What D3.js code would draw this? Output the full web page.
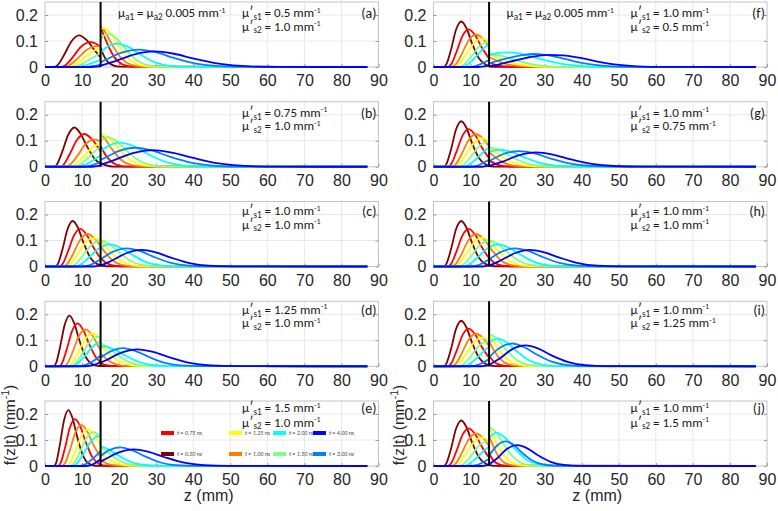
<!DOCTYPE html>
<html><head><meta charset="utf-8">
<script src="https://cdn.jsdelivr.net/npm/d3@7"></script>
<style>
body{margin:0;background:#fff}
svg{display:block}
</style>
</head><body><script>
// ---------------- DATA ----------------
const times = ["0.50","0.75","1.00","1.25","1.50","2.00","3.00","4.00"];
const xTicks = [0,10,20,30,40,50,60,70,80,90];
const yTicks = [0,0.1,0.2];
const xDomain = [0,90];
const yDomain = [0,0.25];
const zSpan = [0,87];          // z range of the computed curves
const interfaceZ = 15;         // layer interface depth (mm)
const panelTags = ["(a)","(b)","(c)","(d)","(e)","(f)","(g)","(h)","(i)","(j)"];
const muS1 = ["0.5","0.75","1.0","1.25","1.5","1.0","1.0","1.0","1.0","1.0"];
const muS2 = ["1.0","1.0","1.0","1.0","1.0","0.5","0.75","1.0","1.25","1.5"];
const muA = "0.005";
const legendRow1 = [1,3,5,7];  // indices into times
const legendRow2 = [0,2,4,6];

// curves per panel: [z (mm), f(z|t) (1/mm)], null = jump at the interface
const panelA = [
 [[2.4,0],[3.4,.0073],[5.1,.045],[7.2,.1],[9.2,.122],[11.2,.104],[13.3,.066],[15,.037],null,[15,.074],[15.7,.049],[17.6,.012],[20,.0012]],
 [[4.2,0],[5.4,.0058],[7.4,.036],[9.8,.079],[12.2,.096],[14.6,.082],[15,.077],null,[15,.154],[16.4,.103],[18.7,.038],[21,.0096],[23.8,.001]],
 [[5,0],[6.35,.0048],[8.6,.03],[11.3,.066],[14,.08],[15,.078],null,[15,.157],[16.2,.136],[18.1,.086],[20.7,.032],[23.3,.008],[26.5,.0008]],
 [[6,0],[7.5,.0045],[10,.028],[13,.0615],[15,.073],null,[15,.147],[15.7,.15],[17.8,.128],[19.9,.081],[22.8,.03],[25.6,.0075],[29.2,.0008]],
 [[7,0],[8.65,.0038],[11.4,.024],[15,.054],null,[15,.108],[16,.122],[17.1,.128],[19.4,.109],[21.7,.069],[24.8,.026],[27.9,.0064],[31.8,.0006]],
 [[8,0],[9.9,.0027],[13,.0167],[15,.028],null,[15,.056],[16.4,.074],[19.5,.09],[22.6,.0765],[25.6,.049],[29.7,.018],[33.8,.0045],[38.9,.0005]],
 [[10,0],[12.25,.002],[15,.009],null,[15,.018],[16,.0248],[20.7,.055],[25.3,.067],[29.9,.057],[34.5,.036],[40.7,.0134],[46.8,.0034],[54.5,.0003]],
 [[12,0],[15,.0028],null,[15,.0055],[18.8,.022],[24.2,.049],[29.5,.06],[34.8,.051],[40.2,.032],[47.3,.012],[54.4,.003],[63.3,.0003]]
];
const panelB = [
 [[2.4,0],[3.2,.009],[4.6,.056],[6.3,.124],[7.9,.151],[9.55,.128],[11.2,.082],[13.4,.03],[15,.011],null,[15,.015],[16.5,.005],[18.5,.0005]],
 [[4,0],[5,.0076],[6.6,.047],[8.6,.103],[10.6,.126],[12.6,.107],[14.6,.068],[15,.059],null,[15,.079],[16.9,.034],[19.2,.0084],[22,.0008]],
 [[5.4,0],[6.6,.0063],[8.6,.039],[10.9,.086],[13.3,.105],[15,.096],null,[15,.128],[15.6,.119],[17.7,.075],[20.4,.028],[23.2,.007],[26.6,.0007]],
 [[6.5,0],[7.85,.0055],[10.1,.034],[12.8,.075],[15,.091],null,[15,.121],[15.4,.122],[17.8,.104],[20.1,.066],[23.2,.024],[26.3,.006],[30.2,.0006]],
 [[7.5,0],[9,.005],[11.4,.031],[14.4,.07],[15,.075],null,[15,.1],[17,.113],[19.6,.096],[22.1,.061],[25.5,.023],[28.9,.0057],[33.1,.0006]],
 [[8.5,0],[10.2,.0042],[13.1,.026],[15,.044],null,[15,.059],[16.6,.076],[20.3,.093],[24,.079],[27.6,.05],[32.5,.019],[37.4,.0047],[43.5,.0005]],
 [[10,0],[12,.0033],[15,.019],null,[15,.026],[17.5,.044],[19.8,.06],[24.4,.073],[29,.062],[33.6,.039],[39.7,.015],[45.8,.0037],[53.5,.0004]],
 [[12,0],[15,.0057],null,[15,.0076],[18.3,.0237],[23.7,.052],[29,.064],[34.3,.054],[39.7,.035],[46.8,.0128],[53.9,.0032],[62.8,.0003]]
];
const panelC = [
 [[2.8,0],[3.5,.011],[4.7,.065],[6.1,.144],[7.5,.175],[8.9,.149],[10.3,.095],[12.2,.035],[14.1,.009],[16.4,.001]],
 [[3.8,0],[4.7,.009],[6.1,.054],[7.8,.119],[9.5,.145],[11.2,.123],[12.9,.078],[15.2,.029],[17.5,.007],[20.3,.001]],
 [[4.9,0],[5.9,.008],[7.5,.046],[9.5,.103],[11.5,.125],[13.5,.106],[15.5,.068],[18.1,.025],[20.7,.006],[24,.001]],
 [[5.5,0],[6.6,.007],[8.5,.041],[10.8,.09],[13,.11],[15.3,.094],[17.5,.059],[20.5,.022],[23.5,.0055],[27.3,.0006]],
 [[6.7,0],[7.9,.006],[10,.037],[12.5,.082],[15,.1],[17.5,.085],[20,.054],[23.3,.02],[26.6,.005],[30.8,.0005]],
 [[7.7,0],[9.2,.005],[11.6,.031],[14.6,.07],[17.5,.085],[20.4,.072],[23.4,.046],[27.3,.017],[31.2,.004],[36.1,.0004]],
 [[10,0],[11.8,.004],[14.8,.026],[18.4,.057],[22,.07],[25.6,.06],[29.2,.038],[34,.014],[38.8,.0035],[44.8,.0004]],
 [[13,0],[15,.004],[18.2,.024],[22.1,.052],[26,.064],[29.9,.054],[33.8,.035],[39,.013],[44.2,.003],[50.7,.0003]]
];
const panelD = [
 [[2.34,0],[2.98,.0117],[4.04,.072],[5.32,.16],[6.6,.195],[7.88,.166],[9.16,.105],[10.86,.039],[12.56,.0098],[14.7,.001]],
 [[3.77,0],[4.52,.0099],[5.78,.061],[7.29,.135],[8.8,.165],[10.3,.14],[11.8,.089],[13.83,.033],[15,.0157],null,[15,.0126],[15.95,.0066],[18.75,.0007]],
 [[5.05,0],[5.93,.0085],[7.39,.0525],[9.15,.116],[10.9,.142],[12.66,.121],[14.4,.077],[15,.062],null,[15,.0495],[17,.0227],[19.6,.0057],[22.85,.0006]],
 [[6.1,0],[7.1,.0076],[8.74,.0466],[10.72,.103],[12.7,.126],[14.68,.107],[15,.101],null,[15,.081],[16.85,.054],[19.8,.02],[22.8,.005],[26.5,.0005]],
 [[6.85,0],[7.95,.0068],[9.8,.042],[12,.093],[14.2,.113],[15,.111],null,[15,.0886],[16.6,.077],[19.05,.0488],[22.35,.018],[25.6,.0045],[29.7,.0005]],
 [[7,0],[8.3,.0058],[10.5,.0355],[13.1,.079],[15,.0945],null,[15,.0756],[15.8,.0768],[18.7,.065],[21.6,.0415],[25.5,.0154],[29.4,.0038],[34.2,.0004]],
 [[9,0],[10.95,.0052],[14.2,.032],[15,.041],null,[15,.0326],[17.7,.057],[21,.07],[24.3,.0595],[27.7,.038],[32.1,.014],[36.5,.0035],[42.1,.0004]],
 [[11,0],[13.1,.0049],[15,.0166],null,[15,.0133],[16.6,.024],[20.8,.053],[25,.065],[29.2,.055],[33.4,.035],[39,.013],[44.6,.0033],[51.6,.0003]]
];
const panelE = [
 [[2.44,0],[3.02,.0129],[3.98,.0796],[5.14,.176],[6.3,.215],[7.46,.183],[8.62,.116],[10.16,.043],[11.7,.0108],[13.6,.001]],
 [[3.5,0],[4.19,.0108],[5.34,.0666],[6.72,.148],[8.1,.18],[9.48,.153],[10.86,.097],[12.7,.036],[14.54,.009],[15,.006],null,[15,.004],[16.5,.0005]],
 [[4.55,0],[5.34,.0095],[6.65,.058],[8.23,.13],[9.8,.158],[11.38,.134],[12.95,.085],[15,.032],null,[15,.021],[17.6,.0053],[20.8,.0005]],
 [[5.7,0],[6.59,.0085],[8.06,.052],[9.83,.116],[11.6,.141],[13.37,.12],[15,.079],null,[15,.053],[16.6,.032],[18.05,.0188],[20.9,.0047],[24.5,.0005]],
 [[6.7,0],[7.66,.0078],[9.26,.048],[11.18,.107],[13.1,.13],[15,.1105],null,[15,.0737],[17.4,.047],[20.5,.0173],[23.6,.0043],[27.5,.0004]],
 [[7.3,0],[8.38,.0069],[10.18,.0426],[12.34,.094],[14.5,.115],[15,.114],null,[15,.076],[17,.065],[19.65,.0414],[23.2,.0153],[26.7,.0038],[31.1,.0004]],
 [[9,0],[10.8,.0065],[13.8,.04],[15,.057],null,[15,.038],[17.1,.059],[20.3,.072],[23.5,.061],[26.7,.039],[30.9,.0144],[35.1,.0036],[40.4,.0004]],
 [[11,0],[12.8,.0058],[15,.026],null,[15,.0173],[15.9,.0237],[19.95,.0525],[24,.064],[28,.054],[32.1,.0346],[37.5,.0128],[42.9,.0032],[49.6,.0003]]
];
const panelF = [
 [[2.8,0],[3.5,.011],[4.7,.065],[6.1,.144],[7.5,.175],[8.9,.149],[10.3,.095],[12.2,.035],[14.1,.009],[15,.0037],null,[15,.0019],[17,.0002]],
 [[3.8,0],[4.7,.009],[6.1,.054],[7.8,.119],[9.5,.145],[11.2,.123],[12.9,.078],[15,.0326],null,[15,.0163],[18.5,.0036],[22.6,.0004]],
 [[4.9,0],[5.9,.008],[7.5,.046],[9.5,.103],[11.5,.125],[13.5,.106],[15,.0765],null,[15,.038],[15.65,.0338],[19.4,.0125],[23.1,.0031],[27.8,.0003]],
 [[5.5,0],[6.6,.007],[8.5,.041],[10.8,.09],[13,.11],[15,.0964],null,[15,.048],[18.5,.0297],[22.8,.011],[27,.0028],[32.3,.0003]],
 [[6.7,0],[7.9,.006],[10,.037],[12.5,.082],[15,.1],null,[15,.05],[18.5,.0425],[22,.027],[26.7,.01],[31.4,.0025],[37.2,.0003]],
 [[7.5,0],[8.85,.0055],[11.1,.034],[13.8,.0754],[15,.0865],null,[15,.045],[17,.053],[20,.056],[23,.052],[26,.042],[30,.026],[35,.011],[40,.0035],[46,.0005]],
 [[9.5,0],[11.3,.0036],[14.3,.022],[15,.028],null,[15,.014],[18,.026],[21,.037],[24,.046],[27,.05],[30,.047],[34,.036],[38,.022],[43,.009],[48,.0025],[54,.0003]],
 [[12,0],[15,.006],null,[15,.003],[18,.011],[22,.025],[26,.038],[31,.047],[35,.045],[40,.034],[45,.019],[50,.008],[55,.0025],[62,.0003]]
];
const panelG = [
 [[2.8,0],[3.5,.011],[4.7,.065],[6.1,.144],[7.5,.175],[8.9,.149],[10.3,.095],[12.2,.035],[14.1,.009],[15,.0037],null,[15,.0028],[17,.0004]],
 [[3.8,0],[4.7,.009],[6.1,.054],[7.8,.119],[9.5,.145],[11.2,.123],[12.9,.078],[15,.0326],null,[15,.0245],[17.9,.0054],[21.2,.0005]],
 [[4.9,0],[5.9,.008],[7.5,.046],[9.5,.103],[11.5,.125],[13.5,.106],[15,.0765],null,[15,.0574],[15.5,.0506],[18.5,.0188],[21.6,.0047],[25.4,.0005]],
 [[5.5,0],[6.6,.007],[8.5,.041],[10.8,.09],[13,.11],[15,.0964],null,[15,.0723],[15.3,.07],[17.9,.0446],[21.4,.0165],[24.9,.0041],[29.2,.0004]],
 [[6.7,0],[7.9,.006],[10,.037],[12.5,.082],[15,.1],null,[15,.075],[17.9,.064],[20.8,.0405],[24.6,.015],[28.4,.0038],[33.2,.0004]],
 [[7.7,0],[9.2,.005],[11.6,.031],[14.6,.07],[15,.073],null,[15,.057],[17.9,.066],[21.3,.056],[24.6,.0356],[29.2,.0132],[33.7,.0033],[39.3,.0003]],
 [[10,0],[11.8,.004],[14.8,.026],[15,.0277],null,[15,.021],[18.9,.049],[23.1,.06],[27.3,.051],[31.4,.0324],[37,.012],[42.6,.003],[49.5,.0003]],
 [[13,0],[15,.004],null,[15,.0035],[18.7,.02],[23.2,.045],[27.7,.055],[32.2,.047],[36.7,.0297],[42.7,.011],[48.7,.0028],[56.2,.0003]]
];
const panelH = [
 [[2.8,0],[3.5,.011],[4.7,.065],[6.1,.144],[7.5,.175],[8.9,.149],[10.3,.095],[12.2,.035],[14.1,.009],[16.4,.001]],
 [[3.8,0],[4.7,.009],[6.1,.054],[7.8,.119],[9.5,.145],[11.2,.123],[12.9,.078],[15.2,.029],[17.5,.007],[20.3,.001]],
 [[4.9,0],[5.9,.008],[7.5,.046],[9.5,.103],[11.5,.125],[13.5,.106],[15.5,.068],[18.1,.025],[20.7,.006],[24,.001]],
 [[5.5,0],[6.6,.007],[8.5,.041],[10.8,.09],[13,.11],[15.3,.094],[17.5,.059],[20.5,.022],[23.5,.0055],[27.3,.0006]],
 [[6.7,0],[7.9,.006],[10,.037],[12.5,.082],[15,.1],[17.5,.085],[20,.054],[23.3,.02],[26.6,.005],[30.8,.0005]],
 [[7.7,0],[9.2,.005],[11.6,.031],[14.6,.07],[17.5,.085],[20.4,.072],[23.4,.046],[27.3,.017],[31.2,.004],[36.1,.0004]],
 [[10,0],[11.8,.004],[14.8,.026],[18.4,.057],[22,.07],[25.6,.06],[29.2,.038],[34,.014],[38.8,.0035],[44.8,.0004]],
 [[13,0],[15,.004],[18.2,.024],[22.1,.052],[26,.064],[29.9,.054],[33.8,.035],[39,.013],[44.2,.003],[50.7,.0003]]
];
const panelI = [
 [[2.8,0],[3.5,.011],[4.7,.065],[6.1,.144],[7.5,.175],[8.9,.149],[10.3,.095],[12.2,.035],[14.1,.009],[15,.0037],null,[15,.0046],[16,.0012],[17,.0002]],
 [[3.8,0],[4.7,.009],[6.1,.054],[7.8,.119],[9.5,.145],[11.2,.123],[12.9,.078],[15,.0326],null,[15,.041],[16.2,.0188],[17.2,.009],[19.8,.0009]],
 [[4.9,0],[5.9,.008],[7.5,.046],[9.5,.103],[11.5,.125],[13.5,.106],[15,.0765],null,[15,.0956],[15.4,.084],[17.8,.031],[20.1,.0078],[23.1,.0008]],
 [[5.5,0],[6.6,.007],[8.5,.041],[10.8,.09],[13,.11],[15,.0964],null,[15,.1205],[15.2,.117],[17.2,.074],[19.9,.0275],[22.6,.0069],[25.9,.0007]],
 [[6.7,0],[7.9,.006],[10,.037],[12.5,.082],[15,.1],null,[15,.125],[17.2,.106],[19.4,.0675],[22.4,.025],[25.4,.0063],[29.1,.0006]],
 [[7.7,0],[9.2,.005],[11.6,.031],[14.6,.07],[15,.073],null,[15,.091],[17.2,.106],[19.9,.09],[22.5,.057],[26,.021],[29.6,.0053],[34,.0005]],
 [[10,0],[11.8,.004],[14.8,.026],[15,.0277],null,[15,.0346],[18,.0718],[21.2,.0875],[24.4,.074],[27.6,.047],[31.9,.0175],[36.2,.0044],[41.5,.0004]],
 [[13,0],[15,.004],null,[15,.005],[17.85,.0296],[21.3,.066],[24.8,.08],[28.3,.068],[31.7,.043],[36.4,.016],[41,.004],[46.8,.0004]]
];
const panelJ = [
 [[2.8,0],[3.5,.011],[4.7,.065],[6.1,.144],[7.5,.175],[8.9,.149],[10.3,.095],[12.2,.035],[14.1,.009],[15,.0037],null,[15,.0055],[16,.001],[17,.0001]],
 [[3.8,0],[4.7,.009],[6.1,.054],[7.8,.119],[9.5,.145],[11.2,.123],[12.9,.078],[15,.0326],null,[15,.049],[16.1,.0226],[17,.011],[19.3,.0011]],
 [[4.9,0],[5.9,.008],[7.5,.046],[9.5,.103],[11.5,.125],[13.5,.106],[15,.0765],null,[15,.115],[15.4,.101],[17.5,.0375],[19.6,.0094],[22.3,.0009]],
 [[5.5,0],[6.6,.007],[8.5,.041],[10.8,.09],[13,.11],[15,.0964],null,[15,.1446],[15.2,.14],[17,.089],[19.5,.033],[21.9,.0083],[25,.0008]],
 [[6.7,0],[7.9,.006],[10,.037],[12.5,.082],[15,.1],null,[15,.15],[17,.1275],[19.1,.081],[21.8,.03],[24.5,.0075],[27.9,.0008]],
 [[7.7,0],[9.2,.005],[11.6,.031],[14.6,.07],[15,.073],null,[15,.11],[17,.1275],[19.4,.108],[21.8,.069],[25,.0255],[28.2,.0064],[32.2,.0006]],
 [[10,0],[11.8,.004],[14.8,.026],[15,.0277],null,[15,.04],[17.1,.078],[19.4,.095],[21.7,.081],[23.9,.051],[26.9,.019],[29.9,.0048],[33.7,.0005]],
 [[13,0],[15,.004],null,[15,.006],[17.2,.0296],[19.9,.066],[22.6,.08],[25.3,.068],[28,.043],[31.6,.016],[35.2,.004],[39.7,.0004]]
];

// ---------------- STYLE / LAYOUT ----------------
const colors = ["#800000","#ff0000","#ff8000","#ffff00","#80ff80","#00ffff","#0080ff","#0000ff"];
const W = 778, H = 511;
const colX = [45, 433.5], plotW = 333.5, plotH = 65;
const rowY = [2, 101.75, 201.5, 301.25, 401];
const annoOff = [[15,28.5],[15,28.5],[13.5,27],[12.5,26],[11,25.5]];
const tickFont = "'Liberation Sans', Arial, sans-serif";
const annoFont = "Carlito, Lato, 'Open Sans', sans-serif";
const annoSize = 13;

const svg = d3.select("body").append("svg").attr("width", W).attr("height", H);
const panels = [panelA,panelB,panelC,panelD,panelE,panelF,panelG,panelH,panelI,panelJ];

function richText(g, x, y, parts, size, anchor) {
  const t = g.append("text").attr("x", x).attr("y", y)
    .attr("font-family", annoFont).attr("font-size", size).attr("fill", "#1a1a1a");
  if (anchor) t.attr("text-anchor", anchor);
  parts.forEach(p => {
    const s = t.append("tspan").text(p.t);
    if (p.sub) s.attr("font-size", size * 0.7).attr("dy", size * 0.22);
    else if (p.sup) s.attr("font-size", size * 0.62).attr("dy", -size * 0.33);
    if (p.back) s.attr("dy", p.back);
  });
  return t;
}

panels.forEach((curves, i) => {
  const col = Math.floor(i / 5), row = i % 5;
  const left = colX[col], top = rowY[row];
  const x = d3.scaleLinear().domain(xDomain).range([left, left + plotW]);
  const y = d3.scaleLinear().domain(yDomain).range([top + plotH, top]);
  const g = svg.append("g");

  // grid
  g.selectAll(".gx").data(xTicks.slice(1, -1)).join("line")
    .attr("x1", d => x(d)).attr("x2", d => x(d)).attr("y1", y(yDomain[0])).attr("y2", y(yDomain[1]))
    .attr("stroke", "#e8e8e8").attr("stroke-width", 1);
  g.selectAll(".gy").data(yTicks.slice(1)).join("line")
    .attr("x1", x(xDomain[0])).attr("x2", x(xDomain[1])).attr("y1", d => y(d)).attr("y2", d => y(d))
    .attr("stroke", "#e8e8e8").attr("stroke-width", 1);

  // frame
  g.append("rect").attr("x", x(xDomain[0])).attr("y", y(yDomain[1]))
    .attr("width", x(xDomain[1]) - x(xDomain[0])).attr("height", y(yDomain[0]) - y(yDomain[1]))
    .attr("fill", "none").attr("stroke", "#c4c4c4").attr("stroke-width", 1);

  // axes
  const ax = g.append("g").attr("transform", `translate(0,${y(yDomain[0])})`)
    .call(d3.axisBottom(x).tickValues(xTicks).tickFormat(d3.format("d")).tickSizeInner(-3).tickSizeOuter(0).tickPadding(8));
  const ay = g.append("g").attr("transform", `translate(${x(xDomain[0])},0)`)
    .call(d3.axisLeft(y).tickValues(yTicks).tickFormat(d => d === 0 ? "0" : d3.format(".1f")(d)).tickSizeInner(-3).tickSizeOuter(0).tickPadding(7));
  const ayr = g.append("g").attr("transform", `translate(${x(xDomain[1])},0)`)
    .call(d3.axisRight(y).tickValues(yTicks).tickFormat("").tickSizeInner(-3).tickSizeOuter(0));
  [ax, ay, ayr].forEach(a => {
    a.select(".domain").remove();
    a.selectAll("line").attr("stroke", "#9a9a9a");
    a.selectAll("text").attr("font-family", tickFont).attr("font-size", 16).attr("fill", "#262626");
  });

  // curves
  const line = d3.line().defined(d => d !== null)
    .x(d => x(d[0])).y(d => y(d[1])).curve(d3.curveMonotoneX);
  curves.forEach((c, k) => {
    const pts = [[zSpan[0], 0], ...c, [zSpan[1], 0]];
    g.append("path").attr("d", line(pts)).attr("fill", "none")
      .attr("stroke", colors[k]).attr("stroke-width", 1.8).attr("stroke-linejoin", "round");
  });

  // interface line
  g.append("line").attr("x1", x(interfaceZ)).attr("x2", x(interfaceZ))
    .attr("y1", y(yDomain[0])).attr("y2", y(yDomain[1]))
    .attr("stroke", "#000").attr("stroke-width", 2);

  // annotations
  const off = annoOff[row];
  const back = -annoSize * 0.22;
  richText(g, left + 197, top + off[0], [{t:"μ′"},{t:"s1",sub:true},{t:" = " + muS1[i] + " mm", back:back},{t:"-1",sup:true}], annoSize);
  richText(g, left + 197, top + off[1], [{t:"μ′"},{t:"s2",sub:true},{t:" = " + muS2[i] + " mm", back:back},{t:"-1",sup:true}], annoSize);
  if (row === 0) {
    richText(g, left + 73, top + off[0], [{t:"μ"},{t:"a1",sub:true},{t:" = μ", back:back},{t:"a2",sub:true},{t:" " + muA + " mm", back:back},{t:"-1",sup:true}], annoSize);
  }
  richText(g, left + plotW - 2, top + off[0] + 1, [{t:panelTags[i]}], 14, "end");

  // legend in panel (e)
  if (i === 4) {
    const lcol = [116, 184, 228, 268];
    [legendRow1, legendRow2].forEach((r, ri) => {
      r.forEach((ti, ci) => {
        const lx = left + lcol[ci], ly = top + 32 + ri * 21;
        g.append("line").attr("x1", lx).attr("x2", lx + 13).attr("y1", ly).attr("y2", ly)
          .attr("stroke", colors[ti]).attr("stroke-width", 4);
        g.append("text").attr("x", lx + 16).attr("y", ly + 2)
          .attr("font-family", annoFont).attr("font-style", "italic").attr("font-size", 6)
          .attr("fill", "#444").text("t = " + times[ti] + " ns");
      });
    });
  }

  // axis titles on the bottom row
  if (row === 4) {
    const cx = (x(xDomain[0]) + x(xDomain[1])) / 2 - 3;
    svg.append("text").attr("x", cx).attr("y", 501).attr("text-anchor", "middle")
      .attr("font-family", tickFont).attr("font-size", 16).attr("fill", "#262626").text("z (mm)");
    const yl = svg.append("text").attr("transform", `translate(${left - 30},${top + 24}) rotate(-90)`)
      .attr("text-anchor", "middle").attr("font-family", tickFont).attr("font-size", 15.5).attr("fill", "#262626");
    yl.append("tspan").text("f(z|t) (mm");
    yl.append("tspan").text("-1").attr("font-size", 10.5).attr("dy", -6);
    yl.append("tspan").text(")").attr("dy", 6);
  }
});
</script></body></html>
